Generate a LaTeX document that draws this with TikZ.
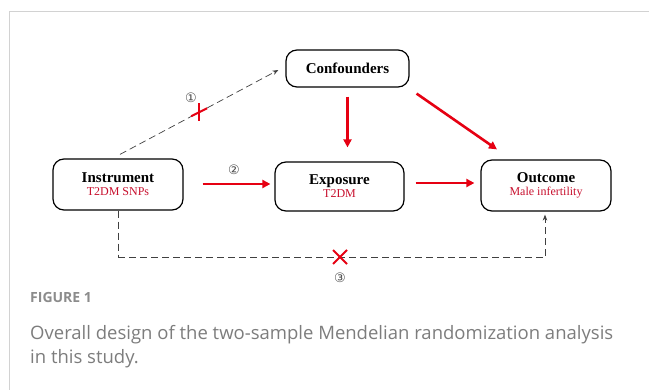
\documentclass[tikz,border=0pt]{standalone}
\usepackage{fontspec}
\setmainfont{Liberation Serif}
\newfontfamily\capfont{Open Sans}
\newfontfamily\symfont{DejaVu Sans}
\usetikzlibrary{arrows.meta}
\definecolor{mrred}{RGB}{230,0,18}
\definecolor{subred}{RGB}{200,16,46}
\definecolor{capgrey}{RGB}{125,125,125}
\definecolor{framegrey}{RGB}{210,210,210}
\tikzset{
  box/.style={draw, line width=1.2pt, rounded corners=11pt, inner sep=0pt, align=center},
  redarrow/.style={draw=mrred, line width=2.6pt, -{Triangle[length=8pt,width=8pt]}},
  dasharrow/.style={draw=black!75, line width=0.7pt, dash pattern=on 7pt off 4pt, -{Stealth[length=6pt,width=4.5pt]}},
  dashline/.style={draw=black!75, line width=0.7pt, dash pattern=on 7pt off 4pt},
  crossmark/.style={draw=mrred, line width=2pt},
  numlabel/.style={font=\symfont\fontsize{13}{13}\selectfont, text=black!70, inner sep=0pt},
  title/.style={font=\bfseries\fontsize{15}{16}\selectfont},
}
\begin{document}
\begin{tikzpicture}[x=1pt,y=-1pt]
\useasboundingbox (0,0) rectangle (649,390);
\fill[white] (0,0) rectangle (649,390);
% frame
\draw[framegrey, line width=1pt] (9,390) -- (9,12) -- (649,12);
% nodes
\node[box, minimum width=123pt, minimum height=37pt, title] (conf) at (347.5,68.5) {Confounders};
\node[box, minimum width=130pt, minimum height=51pt] (inst) at (118,184.5) {{\bfseries\fontsize{15}{16}\selectfont Instrument}\\[1pt]{\fontsize{12}{13}\selectfont\color{subred}T2DM SNPs}};
\node[box, minimum width=129pt, minimum height=49pt] (expo) at (339.5,186.5) {{\bfseries\fontsize{15}{16}\selectfont Exposure}\\[1pt]{\fontsize{12}{13}\selectfont\color{subred}T2DM}};
\node[box, minimum width=130pt, minimum height=51pt] (outc) at (546,185.5) {{\bfseries\fontsize{15}{16}\selectfont Outcome}\\[1pt]{\fontsize{12}{13}\selectfont\color{subred}Male infertility}};
% red causal arrows
\draw[redarrow, shorten <=19pt, shorten >=4pt] (inst.east |- 0,184) -- (expo.west |- 0,184);
\draw[redarrow, shorten <=11pt, shorten >=6pt] (expo.east |- 0,183) -- (outc.west |- 0,183);
\draw[redarrow, shorten <=9pt, shorten >=14pt] (conf.south) -- (conf.south |- expo.north);
\draw[redarrow] ([shift={(7,6)}]conf.south east) -- ([shift={(-49,-10)}]outc.north);
% assumption 1
\draw[dasharrow] ([shift={(2,-4)}]inst.north) -- node[pos=0.5] (x1) {} ([shift={(-7,1.5)}]conf.west);
\draw[crossmark] ([shift={(0,-9)}]x1.center) -- ([shift={(0,9)}]x1.center);
\draw[crossmark] ([shift={(-8,4)}]x1.center) -- ([shift={(8,-4)}]x1.center);
\node[numlabel] (n1) at (191,98) {①};
% assumption 2 label
\node[numlabel] (n2) at (234,170) {②};
% assumption 3
\coordinate (b1) at ([shift={(0,47)}]inst.south);
\draw[dashline] (inst.south) -- (b1);
\draw[dasharrow, shorten >=3pt] (b1) -| ([shift={(-1,0)}]outc.south);
\coordinate (x3) at (340,257);
\draw[crossmark] ([shift={(-7,-7)}]x3) -- ([shift={(7,7)}]x3);
\draw[crossmark] ([shift={(-7,7)}]x3) -- ([shift={(7,-7)}]x3);
\node[numlabel] (n3) at (340,278) {③};
% caption
\node[anchor=base west, inner sep=0pt, font=\capfont\bfseries\fontsize{14}{14}\selectfont, text=black!45] (figlabel) at (30,303) {FIGURE 1};
\node[anchor=base west, inner sep=0pt, font=\capfont\fontsize{18.5}{24}\selectfont, text=capgrey] (cap1) at (30,340) {Overall design of the two-sample Mendelian randomization analysis};
\node[anchor=base west, inner sep=0pt, font=\capfont\fontsize{18.5}{24}\selectfont, text=capgrey] (cap2) at (30,364) {in this study.};
\end{tikzpicture}
\end{document}
